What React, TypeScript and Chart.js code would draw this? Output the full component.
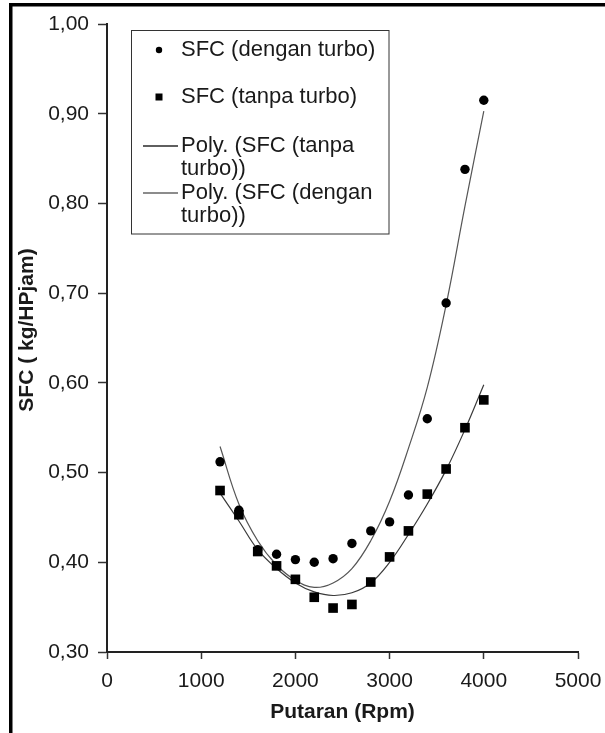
import React, { useEffect, useRef } from 'react';
import { Chart, registerables } from 'chart.js';

Chart.register(...registerables);

// ---- data ----
const rpm = [1200, 1400, 1600, 1800, 2000, 2200, 2400, 2600, 2800, 3000, 3200, 3400, 3600, 3800, 4000];
const sfcDengan = [0.512, 0.458, 0.414, 0.409, 0.403, 0.400, 0.404, 0.421, 0.435, 0.445, 0.475, 0.560, 0.689, 0.838, 0.915];
const sfcTanpa = [0.480, 0.453, 0.412, 0.396, 0.381, 0.361, 0.349, 0.353, 0.378, 0.406, 0.435, 0.476, 0.504, 0.550, 0.581];
const polyDengan = [0.529, 0.465, 0.424, 0.397, 0.380, 0.372, 0.377, 0.393, 0.424, 0.468, 0.527, 0.595, 0.687, 0.797, 0.903];
const polyTanpa = [0.477, 0.446, 0.414, 0.393, 0.377, 0.367, 0.363, 0.366, 0.377, 0.400, 0.431, 0.465, 0.503, 0.548, 0.598];

const xMin = 0;
const xMax = 5000;
const xStep = 1000;
const yMin = 0.3;
const yMax = 1.0;
const yStep = 0.1;

const xTitle = 'Putaran (Rpm)';
const yTitle = 'SFC ( kg/HPjam)';
const legendDengan = ['SFC (dengan turbo)'];
const legendTanpa = ['SFC (tanpa turbo)'];
const legendPolyTanpa = ['Poly. (SFC (tanpa', 'turbo))'];
const legendPolyDengan = ['Poly. (SFC (dengan', 'turbo))'];

const FONT = '"Liberation Sans", Arial, Helvetica, sans-serif';
const TEXT = '#1a1a1a';

const toXY = (ys: number[]) => rpm.map((x, i) => ({ x, y: ys[i] }));

const decorPlugin = {
  id: 'decor',
  beforeDraw(chart: any) {
    const ctx = chart.ctx;
    ctx.save();
    ctx.fillStyle = '#ffffff';
    ctx.fillRect(0, 0, chart.width, chart.height);
    ctx.fillStyle = '#000000';
    ctx.fillRect(9, 3, 3.5, chart.height - 3);
    ctx.fillRect(9, 3, chart.width - 9, 3.5);
    ctx.restore();
  },
  afterDraw(chart: any) {
    const ctx = chart.ctx;
    ctx.save();
    // y axis title
    ctx.fillStyle = TEXT;
    ctx.font = `bold 21px ${FONT}`;
    ctx.textAlign = 'center';
    ctx.textBaseline = 'middle';
    ctx.translate(27, 330);
    ctx.rotate(-Math.PI / 2);
    ctx.fillText(yTitle, 0, 0);
    ctx.restore();

    // legend box
    ctx.save();
    ctx.strokeStyle = '#333';
    ctx.lineWidth = 1;
    ctx.strokeRect(131.5, 30.5, 257.5, 203.5);
    ctx.fillStyle = TEXT;
    ctx.font = `22px ${FONT}`;
    ctx.textAlign = 'left';
    ctx.textBaseline = 'middle';
    const tx = 181;
    const lh = 23;
    const items: { lines: string[]; y: number; kind: string; color?: string }[] = [
      { lines: legendDengan, y: 50, kind: 'circle' },
      { lines: legendTanpa, y: 97, kind: 'rect' },
      { lines: legendPolyTanpa, y: 146, kind: 'line', color: '#2a2a2a' },
      { lines: legendPolyDengan, y: 193, kind: 'line', color: '#666' },
    ];
    items.forEach((it) => {
      ctx.fillStyle = '#000';
      if (it.kind === 'circle') {
        ctx.beginPath();
        ctx.arc(159, it.y, 3.2, 0, Math.PI * 2);
        ctx.fill();
      } else if (it.kind === 'rect') {
        ctx.fillRect(155.5, it.y - 3.5, 7, 7);
      } else {
        ctx.strokeStyle = it.color || '#333';
        ctx.lineWidth = 1.3;
        ctx.beginPath();
        ctx.moveTo(143, it.y);
        ctx.lineTo(178, it.y);
        ctx.stroke();
      }
      ctx.fillStyle = TEXT;
      it.lines.forEach((t, k) => ctx.fillText(t, tx, it.y + k * lh));
    });
    ctx.restore();
  },
};

export default function App() {
  const ref = useRef<HTMLCanvasElement | null>(null);

  useEffect(() => {
    if (!ref.current) return;
    const chart = new Chart(ref.current, {
      type: 'scatter',
      data: {
        datasets: [
          {
            label: legendDengan.join(' '),
            data: toXY(sfcDengan),
            pointStyle: 'circle',
            pointRadius: 4.7,
            backgroundColor: '#000',
            borderColor: '#000',
            borderWidth: 0,
            showLine: false,
            order: 1,
          },
          {
            label: legendTanpa.join(' '),
            data: toXY(sfcTanpa),
            pointStyle: 'rect',
            pointRadius: 6.8,
            backgroundColor: '#000',
            borderColor: '#000',
            borderWidth: 0,
            showLine: false,
            order: 0,
          },
          {
            label: legendPolyTanpa.join(' '),
            data: toXY(polyTanpa),
            showLine: true,
            pointRadius: 0,
            borderColor: '#3a3a3a',
            borderWidth: 1.2,
            tension: 0.4,
            order: 3,
          },
          {
            label: legendPolyDengan.join(' '),
            data: toXY(polyDengan),
            showLine: true,
            pointRadius: 0,
            borderColor: '#555',
            borderWidth: 1.2,
            tension: 0.4,
            order: 2,
          },
        ],
      },
      options: {
        animation: false,
        responsive: false,
        maintainAspectRatio: false,
        layout: { padding: { left: 0, right: 27, top: 24, bottom: 0 } },
        plugins: {
          legend: { display: false },
          tooltip: { enabled: false },
          title: { display: false },
        },
        scales: {
          x: {
            type: 'linear',
            min: xMin,
            max: xMax,
            afterFit: (s: any) => {
              s.height = 81;
              s.paddingLeft = 0;
              s.paddingRight = 0;
            },
            ticks: {
              stepSize: xStep,
              color: TEXT,
              font: { family: FONT, size: 21 },
              padding: 10,
              maxRotation: 0,
              callback: (v: any) => String(v),
            },
            grid: { drawOnChartArea: false, drawTicks: true, tickLength: 7, color: '#333', tickWidth: 1.5 },
            border: { display: true, color: '#222', width: 2 },
            title: {
              display: true,
              text: xTitle,
              color: TEXT,
              font: { family: FONT, size: 21, weight: 'bold' },
              padding: { top: 0, bottom: 8 },
            },
          },
          y: {
            type: 'linear',
            min: yMin,
            max: yMax,
            afterFit: (s: any) => {
              s.width = 107;
              s.paddingTop = 0;
              s.paddingBottom = 0;
            },
            ticks: {
              stepSize: yStep,
              color: TEXT,
              font: { family: FONT, size: 21 },
              padding: 9,
              callback: (v: any) => Number(v).toFixed(2).replace('.', ','),
            },
            grid: { drawOnChartArea: false, drawTicks: true, tickLength: 9, color: '#333', tickWidth: 1.5 },
            border: { display: true, color: '#222', width: 2 },
          },
        },
      },
      plugins: [decorPlugin],
    } as any);
    return () => chart.destroy();
  }, []);

  return (
    <div style={{ position: 'absolute', left: 0, top: 0, width: 605, height: 733, background: '#fff' }}>
      <canvas ref={ref} width={605} height={733} style={{ display: 'block', width: 605, height: 733 }} />
    </div>
  );
}
